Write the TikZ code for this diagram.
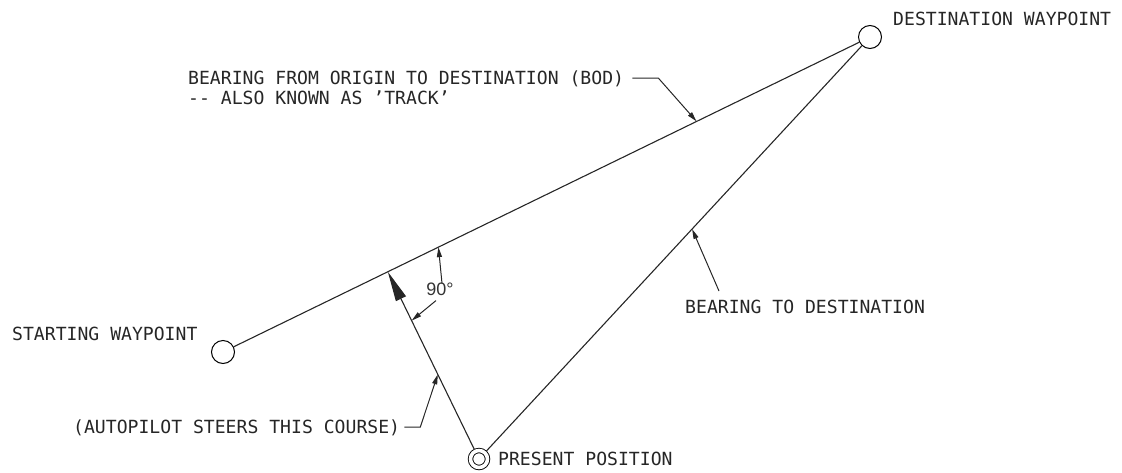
\documentclass[tikz,border=0pt]{standalone}
\usepackage{fontspec}
\setmainfont{Liberation Sans}
\newfontfamily\cadfont{DejaVu Sans Mono}
\usetikzlibrary{arrows.meta,calc}

\begin{document}
\begin{tikzpicture}[x=1pt,y=-1pt,
  wpt/.style={draw, circle, minimum size=23pt, inner sep=0pt, line width=1pt},
  here/.style={draw, circle, minimum size=17pt, inner sep=0pt, line width=0.9pt, double, double distance=3.6pt, outer sep=2.5pt},
  lbl/.style={anchor=base west, inner sep=0pt, font=\cadfont\fontsize{18.1}{21}\selectfont, text=black!85},
  course/.style={line width=1.1pt, black!85},
  leader/.style={line width=1pt, black!85, -{Triangle[length=10pt,width=5pt]}},
  steer/.style={line width=1.1pt, black!85, -{Triangle[length=30pt,width=11pt]}}
]
  \useasboundingbox (0,0) rectangle (1122,472);

  % waypoints and boat
  \node[wpt] (sw) at (223,352) {};
  \node[wpt] (dw) at (870,37) {};
  \node[here] (pp) at (479,459) {};

  \draw[course] (sw) -- (dw);
  \draw[course] (pp) -- (dw);
  \coordinate (foot) at ($(sw)!(pp)!(dw)$);
  \draw[steer] (pp) -- (foot);

  % labels
  \node[lbl] (dwl) at (893,25) {DESTINATION WAYPOINT};
  \node[lbl] (swl) at (12,340) {STARTING WAYPOINT};
  \node[lbl] (ppl) at (498,465) {PRESENT POSITION};
  \node[lbl] (bod1) at (188,84) {BEARING FROM ORIGIN TO DESTINATION (BOD)};
  \node[lbl] (bod2) at (188,104) {-{}- ALSO KNOWN AS ’TRACK’};
  \node[lbl] (btd) at (685,313) {BEARING TO DESTINATION};
  \node[lbl] (apl) at (73,433) {(AUTOPILOT STEERS THIS COURSE)};
  \node[inner sep=1pt, font=\fontsize{18}{20}\selectfont, text=black!80] (ang) at (440,289) {90°};

  % leaders
  \coordinate (bodtip) at ($(sw)!0.732!(dw)$);
  \coordinate (bodk) at ($(bod1.base east)+(8,-6)$);
  \draw[leader] (bodk) -- ++(26,0) -- (bodtip);

  \coordinate (btdtip) at ($(pp)!0.545!(dw)$);
  \coordinate (btdk) at ($(btd.base west)+(34,-22)$);
  \draw[leader] (btdk) -- (btdtip);

  \coordinate (aptip) at ($(pp)!0.452!(foot)$);
  \coordinate (apk) at ($(apl.base east)+(4,-6)$);
  \draw[leader] (apk) -- ++(16,0) -- (aptip);

  \coordinate (angtip1) at ($(sw)!0.333!(dw)$);
  \coordinate (angtip2) at ($(pp)!0.739!(foot)$);
  \draw[leader] ($(ang.north)+(2,2)$) -- (angtip1);
  \draw[leader] ($(ang.south)+(-4,4)$) -- (angtip2);
\end{tikzpicture}
\end{document}
